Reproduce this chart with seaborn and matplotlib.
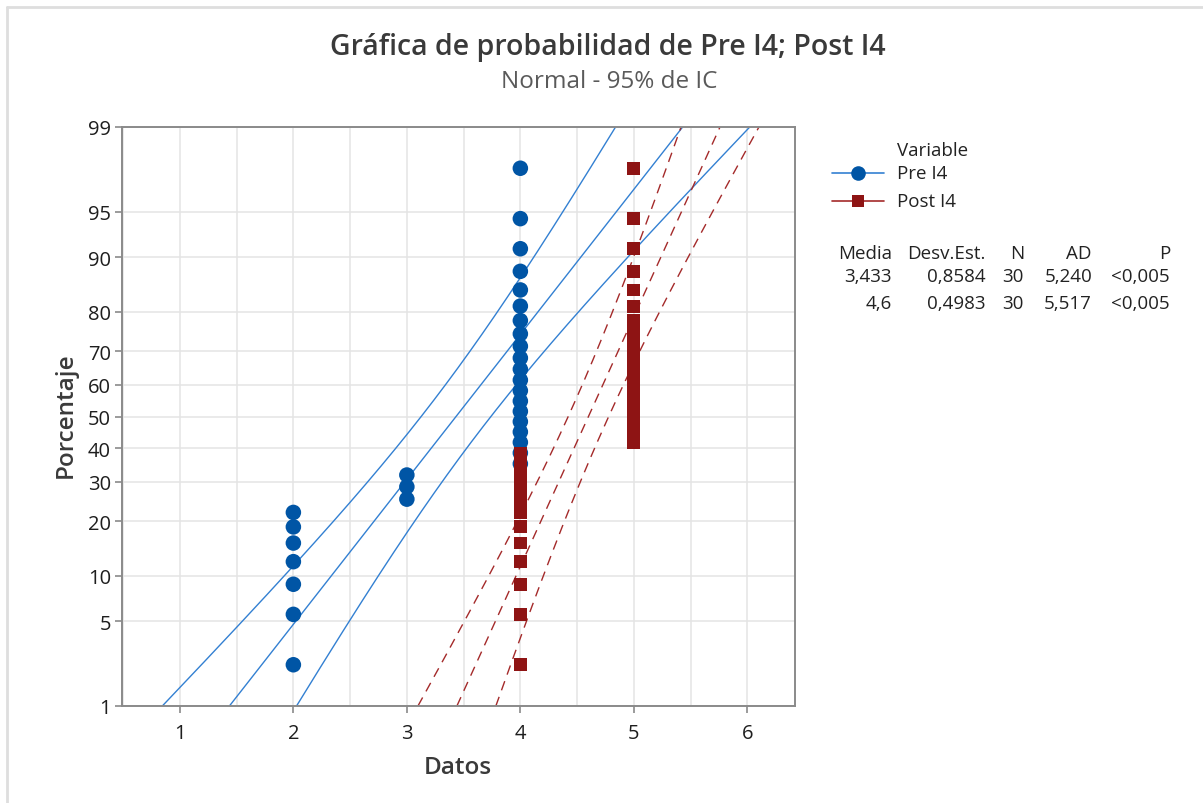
import numpy as np
import pandas as pd
import matplotlib
matplotlib.use("Agg")
import matplotlib.pyplot as plt
import seaborn as sns
from matplotlib.lines import Line2D
from matplotlib.ticker import NullLocator, FixedLocator
from statistics import NormalDist

# ---------------- data ----------------
variables = ["Pre I4", "Post I4"]
pre_levels = [2, 3, 4]
pre_counts = [7, 3, 20]
post_levels = [4, 5]
post_counts = [12, 18]
y_ticks = [1, 5, 10, 20, 30, 40, 50, 60, 70, 80, 90, 95, 99]
x_ticks = [1, 2, 3, 4, 5, 6]
table_header = ["Media", "Desv.Est.", "N", "AD", "P"]
ad_values = ["5,240", "5,517"]
p_values = ["<0,005", "<0,005"]
conf_level = 0.95

colors = {"Pre I4": "#0055A5", "Post I4": "#8E1414"}
line_colors = {"Pre I4": "#3380D2", "Post I4": "#A42A2A"}

sns.set_theme(style="white")
plt.rcParams["font.family"] = ["Open Sans", "DejaVu Sans"]

ND = NormalDist()
_ppf = np.vectorize(lambda p: ND.inv_cdf(min(max(p, 1e-12), 1 - 1e-12)), otypes=[float])
_cdf = np.vectorize(ND.cdf, otypes=[float])


def fwd(y):
    return _ppf(np.asarray(y, dtype=float) / 100.0)


def inv(z):
    return _cdf(np.asarray(z, dtype=float)) * 100.0


samples = {
    "Pre I4": np.repeat(pre_levels, pre_counts).astype(float),
    "Post I4": np.repeat(post_levels, post_counts).astype(float),
}

rows = []
stats = {}
for v in variables:
    vals = np.sort(samples[v])
    n = len(vals)
    ranks = np.arange(1, n + 1)
    pct = (ranks - 0.3) / (n + 0.4) * 100
    for x, p in zip(vals, pct):
        rows.append({"Datos": x, "Porcentaje": p, "Variable": v})
    stats[v] = (vals.mean(), vals.std(ddof=1), n)
df = pd.DataFrame(rows)

W, H = 1203, 804
fx = lambda px: px / W
fy = lambda py: 1 - py / H

fig = plt.figure(figsize=(W / 100, H / 100), dpi=100)
ax = fig.add_axes([fx(122), fy(707), fx(795) - fx(122), fy(128) - fy(707)])
ax.set_yscale("function", functions=(fwd, inv))

# fit lines and CI
zc = ND.inv_cdf(0.5 + conf_level / 2)
pgrid = np.linspace(1, 99, 400)
zg = fwd(pgrid)
for v in variables:
    m, s, n = stats[v]
    xf = m + s * zg
    se = s * np.sqrt(1.0 / n + zg ** 2 / (2.0 * n))
    ls = "-" if v == "Pre I4" else (0, (7, 5))
    for xx in (xf, xf - zc * se, xf + zc * se):
        ax.plot(xx, pgrid, color=line_colors[v], lw=1.0, linestyle=ls, zorder=2)

sns.scatterplot(data=df, x="Datos", y="Porcentaje", hue="Variable", style="Variable",
                size="Variable", sizes={"Pre I4": 125, "Post I4": 85},
                markers={"Pre I4": "o", "Post I4": "s"}, palette=colors,
                linewidth=0, legend=False, ax=ax, zorder=3)

ax.set_ylim(1, 99)
ax.set_xlim(0.49, 6.42)
ax.yaxis.set_major_locator(FixedLocator(y_ticks))
ax.yaxis.set_minor_locator(NullLocator())
ax.set_yticklabels([str(t) for t in y_ticks])
ax.xaxis.set_major_locator(FixedLocator(x_ticks))
ax.xaxis.set_minor_locator(FixedLocator([t + 0.5 for t in range(0, 7)]))
ax.grid(True, which="both", color="#e4e4e4", lw=1.1, zorder=0)
ax.set_axisbelow(True)
for sp in ax.spines.values():
    sp.set_color("#8a8a8a")
    sp.set_linewidth(1.4)
ax.tick_params(axis="both", which="major", length=5, width=1.2, color="#8a8a8a",
               labelsize=14.5, labelcolor="#1e1e1e", direction="out",
               left=True, bottom=True, pad=3)
ax.tick_params(axis="x", which="minor", length=0)
ax.tick_params(axis="x", which="major", pad=7)
ax.set_xlabel("")
ax.set_ylabel("")

fig.text(fx(608), fy(47), "Gráfica de probabilidad de Pre I4; Post I4", ha="center",
         va="center", fontsize=20.5, fontweight="semibold", color="#3a3a3a")
fig.text(fx(609), fy(82), "Normal - 95% de IC", ha="center", va="center",
         fontsize=17.5, color="#5a5a5a")
fig.text(fx(458), fy(768), "Datos", ha="center", va="center", fontsize=17.5,
         fontweight="semibold", color="#3a3a3a")
fig.text(fx(66), fy(415), "Porcentaje", ha="center", va="center", rotation=90,
         fontsize=17.5, fontweight="semibold", color="#3a3a3a")

# legend
fs_leg = 13.5
fig.text(fx(897), fy(151), "Variable", ha="left", va="center", fontsize=fs_leg, color="#222222")
leg_y = {"Pre I4": 174, "Post I4": 202}
for v in variables:
    y = fy(leg_y[v])
    fig.add_artist(Line2D([fx(832), fx(884)], [y, y], transform=fig.transFigure,
                          color=line_colors[v], lw=1.2))
    fig.add_artist(Line2D([fx(858)], [y], transform=fig.transFigure, marker="o" if v == "Pre I4" else "s",
                          ms=10.5 if v == "Pre I4" else 8.5, color=colors[v], mew=0, linestyle="none"))
    fig.text(fx(897), y, v, ha="left", va="center", fontsize=fs_leg, color="#222222")

# stats table
col_right = [892, 986, 1024, 1092, 1170]
for xr, h in zip(col_right, table_header):
    fig.text(fx(xr), fy(254), h, ha="right", va="center", fontsize=fs_leg, color="#222222")
for i, v in enumerate(variables):
    m, s, n = stats[v]
    cells = ["{:.4g}".format(m).replace(".", ","), "{:.4g}".format(s).replace(".", ","),
             str(n), ad_values[i], p_values[i]]
    yy = fy(277 + 27 * i)
    for xr, c in zip(col_right, cells):
        fig.text(fx(xr), yy, c, ha="right", va="center", fontsize=fs_leg, color="#222222")

# outer frame (top + left)
fig.add_artist(Line2D([fx(7), 1], [fy(7.5), fy(7.5)], transform=fig.transFigure, color="#dedede", lw=2))
fig.add_artist(Line2D([fx(7), fx(7)], [fy(7.5), 0], transform=fig.transFigure, color="#dedede", lw=2))

fig.savefig("out.png", dpi=100)
